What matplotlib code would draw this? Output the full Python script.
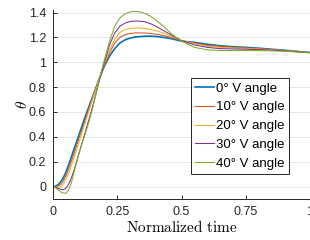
import matplotlib
matplotlib.use("Agg")
import matplotlib.pyplot as plt

plt.rcParams["font.family"] = ["Liberation Sans", "DejaVu Sans"]
plt.rcParams["mathtext.fontset"] = "cm"

# normalized time samples
t = [0, 0.01, 0.02, 0.03, 0.04, 0.05, 0.06, 0.07, 0.08, 0.10, 0.12, 0.14,
     0.16, 0.18, 0.20, 0.22, 0.24, 0.26, 0.28, 0.30, 0.32, 0.34, 0.36, 0.38,
     0.40, 0.43, 0.46, 0.50, 0.55, 0.60, 0.65, 0.70, 0.75, 0.80, 0.85, 0.90,
     0.95, 1.0]

theta_0 = [0, 0.003, 0.015, 0.037, 0.07, 0.115, 0.17, 0.23, 0.29, 0.41, 0.53,
           0.645, 0.755, 0.87, 0.97, 1.05, 1.11, 1.155, 1.18, 1.195, 1.203,
           1.207, 1.21, 1.21, 1.208, 1.2, 1.19, 1.17, 1.16, 1.145, 1.133,
           1.125, 1.12, 1.113, 1.105, 1.097, 1.087, 1.078]
theta_10 = [0, 0.0, 0.005, 0.018, 0.045, 0.085, 0.135, 0.195, 0.255, 0.38,
            0.505, 0.63, 0.75, 0.865, 0.975, 1.075, 1.155, 1.2, 1.222, 1.232,
            1.236, 1.236, 1.235, 1.232, 1.226, 1.215, 1.2, 1.173, 1.155, 1.137,
            1.128, 1.12, 1.116, 1.11, 1.103, 1.095, 1.087, 1.078]
theta_20 = [0, -0.002, -0.004, 0.0, 0.02, 0.055, 0.10, 0.16, 0.22, 0.35,
            0.48, 0.61, 0.74, 0.87, 0.99, 1.1, 1.185, 1.24, 1.262, 1.272,
            1.276, 1.275, 1.272, 1.265, 1.255, 1.235, 1.21, 1.175, 1.15, 1.13,
            1.12, 1.115, 1.112, 1.107, 1.1, 1.093, 1.086, 1.078]
theta_30 = [0, -0.005, -0.015, -0.023, -0.025, -0.015, 0.015, 0.06, 0.12,
            0.26, 0.40, 0.54, 0.69, 0.85, 1.0, 1.14, 1.235, 1.29, 1.315, 1.328,
            1.332, 1.33, 1.325, 1.31, 1.29, 1.255, 1.22, 1.175, 1.14, 1.12,
            1.11, 1.107, 1.105, 1.102, 1.097, 1.091, 1.085, 1.078]
theta_40 = [0, -0.01, -0.027, -0.043, -0.053, -0.054, -0.03, 0.02, 0.1, 0.26,
            0.39, 0.52, 0.68, 0.86, 1.02, 1.17, 1.29, 1.355, 1.39, 1.405,
            1.41, 1.405, 1.39, 1.37, 1.34, 1.29, 1.23, 1.17, 1.12, 1.10, 1.095,
            1.094, 1.094, 1.094, 1.092, 1.088, 1.083, 1.078]

labels = ["0° V angle", "10° V angle", "20° V angle", "30° V angle",
          "40° V angle"]
series = [theta_0, theta_10, theta_20, theta_30, theta_40]
colors = ["#0072BD", "#D95319", "#EDB120", "#7E2F8E", "#77AC30"]
widths = [1.2, 0.75, 0.75, 0.75, 0.75]

fig = plt.figure(figsize=(3.1, 2.4), dpi=100)
ax = fig.add_axes((0.171, 0.171, 0.829, 0.787))

for y, lab, c, lw in zip(series, labels, colors, widths):
    ax.plot(t, y, color=c, lw=lw, label=lab)

ax.set_xlim(0, 1)
ax.set_ylim(-0.1, 1.42)
ax.set_xticks([0, 0.25, 0.5, 0.75, 1])
ax.set_xticklabels(["0", "0.25", "0.5", "0.75", "1"])
ax.set_yticks([0, 0.2, 0.4, 0.6, 0.8, 1.0, 1.2, 1.4])
ax.set_yticklabels(["0", "0.2", "0.4", "0.6", "0.8", "1", "1.2", "1.4"])
ax.tick_params(direction="in", length=3, width=0.7, labelsize=9,
               colors="#262626", pad=5)
ax.yaxis.grid(True, color="#e6e6e6", lw=0.7)
ax.set_axisbelow(True)
for side in ["top", "right"]:
    ax.spines[side].set_visible(False)
for side in ["left", "bottom"]:
    ax.spines[side].set_color("#262626")
    ax.spines[side].set_linewidth(0.7)

ax.set_xlabel(r"$\mathrm{Normalized\ time}$", fontsize=11, labelpad=1)
ax.set_ylabel(r"$\theta$", fontsize=11, labelpad=-1)

leg = ax.legend(loc="upper left", bbox_to_anchor=(0.537, 0.64),
                borderaxespad=0, fontsize=9.5, fancybox=False, framealpha=1,
                edgecolor="#262626", handlelength=1.4, handletextpad=0.15,
                labelspacing=0.5, borderpad=0.32)
leg.get_frame().set_linewidth(0.7)

fig.savefig("out.png", dpi=100)
